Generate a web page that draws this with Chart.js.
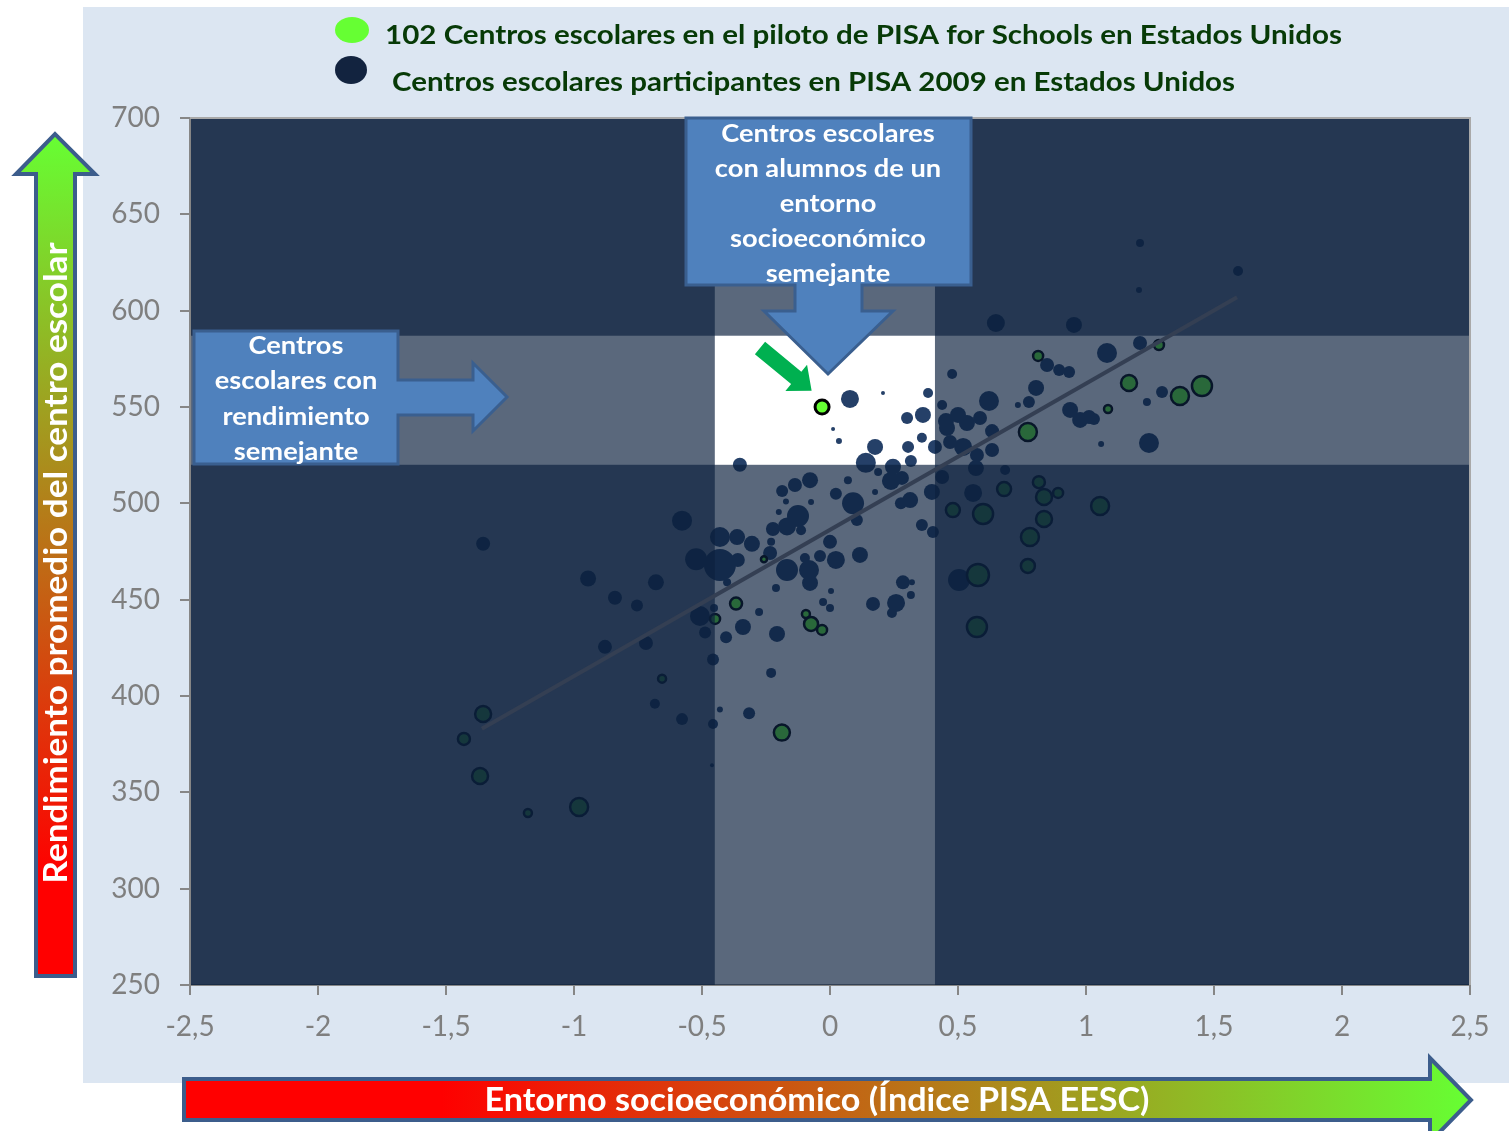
<!DOCTYPE html>
<html lang="es">
<head>
<meta charset="utf-8">
<title>PISA for Schools - Estados Unidos</title>
<script src="https://cdn.jsdelivr.net/npm/chart.js@4.4.1/dist/chart.umd.min.js"></script>
<style>
  html, body { margin: 0; padding: 0; background: #fff; }
  #grafico { display: block; }
</style>
</head>
<body>
<canvas id="grafico" width="1509" height="1131"></canvas>
<script>
// Centros escolares participantes en PISA 2009 (índice EESC, rendimiento, tamaño)
const pisa2009X = [-1.355, -0.578, -0.945, -0.84, -0.754, -0.68, -0.879, -0.719, -0.684, -0.578, -0.461, -0.43, -0.457, -0.457, -0.406, -0.43, -0.523, -0.43, -0.508, -0.488, -0.453, -0.402,
    -0.352, -0.187, -0.137, -0.078, -0.172, -0.074, 0.07, 0.023, 0.09, 0.14, -0.2, -0.125, -0.168, -0.223, -0.113, -0.363, -0.305, -0.23, -0.234, -0.36, -0.168, -0.098, -0.082, -0.039, 0, 0.023, 0.117, -0.078, -0.211, 0.004, 0.105,
    0.078, 0.207, 0.383, 0.012, 0.035, 0.301, 0.363, 0.176, 0.305, 0.359, 0.41, 0.316, 0.246, 0.188, 0.238, 0.281, 0.176, 0.313, 0.277, 0.398, 0.438, 0.453, 0.438, 0.359, 0.402, 0.285, 0.32, 0.316,
    -0.027, 0, -0.277, -0.34, -0.207, -0.23, -0.316, 0.168, 0.258, 0.242,
    1.211, 1.594, 1.207, 0.648, 0.953, 1.211, 0.848, 0.895, 0.934, 1.082, 0.477, 0.805, 0.777, 0.734, 0.621, 1.297, 1.238, 0.938, 0.977, 1.012, 1.031, 1.059, 1.246, 0.684, 0.57, 0.5, 0.535, 0.586, 0.633, 0.457, 0.469, 0.52, 0.574, 0.633,
    0.559, 0.504];
const pisa2009Y = [479, 491, 461, 451, 447, 459, 425.5, 427.5, 396, 388, 364, 393, 385.5, 419, 430.5, 482.5, 471, 468, 441.5, 433, 445.7, 459,
    520, 506.4, 509.5, 512, 501, 500.7, 512, 505, 500, 521, 495.5, 493.4, 488, 486.7, 486, 482.5, 479, 480, 474.2, 470.6, 465.4, 471.6, 465.4, 472.7, 480, 470.6, 473.2, 458.7, 456, 454.5, 491.4,
    554.2, 557.3, 557.3, 538.6, 532.4, 544.3, 545.9, 529.3, 529.3, 534, 529.3, 522, 519, 516.3, 511.6, 513.2, 505.9, 501.7, 500, 505.9, 513.7, 542.7, 551, 488.8, 485.1, 459, 459, 452.4,
    448.8, 445.7, 443.6, 435.8, 432.2, 412, 391, 447.8, 448.3, 443.1,
    635.1, 620.6, 610.7, 593.6, 592.6, 583.2, 571.8, 569.2, 568.2, 578, 567.1, 559.9, 552.6, 551, 553.1, 557.8, 552.6, 548.5, 543.3, 544.8, 543.8, 530.8, 531.3, 517.3, 518.3, 545.9, 541.7, 544.3, 537.5, 539.1, 531.8, 529.3, 525.1, 527.7,
    505.4, 460.2];
const pisa2009Tam = [7, 10, 8, 7, 6, 8, 7, 7, 5, 6, 2, 3, 5, 6, 6, 10, 11, 16, 10, 6, 4, 4,
    7, 6, 7, 8, 3, 3, 4, 6, 11, 10, 3, 11, 9, 7, 5, 8, 8, 4, 7, 7, 11, 5, 10, 6, 7, 9, 8, 8, 4, 3, 6,
    9, 2, 5, 2, 3, 6, 8, 8, 6, 5, 7, 6, 8, 4, 9, 7, 3, 8, 6, 8, 7, 8, 5, 6, 6, 7, 3, 4,
    4, 4, 4, 8, 8, 5, 6, 7, 9, 5,
    4, 5, 3, 9, 8, 7, 7, 6, 6, 10, 5, 8, 6, 3, 10, 6, 4, 8, 8, 7, 6, 3, 10, 5, 8, 8, 8, 7, 7, 8, 7, 9, 7, 7,
    9, 11];

// Centros escolares del piloto de PISA for Schools
const pilotoX = [-0.656, -0.449, -0.367, -1.355, -1.43, -1.367, -1.18, -0.98, -0.258, -0.094, -0.074, -0.031, -0.188,
    1.285, 0.813, 1.168, 1.453, 1.367, 1.086, 0.773, 0.68, 0.816, 0.836, 0.891, 0.48, 0.598, 0.836, 1.055, 0.781, 0.773, 0.578, 0.574];
const pilotoY = [409, 440, 448, 390.7, 377.7, 358.5, 339.3, 342.4, 471, 442.6, 437.4, 434.3, 381,
    582.2, 576.5, 562.5, 560.9, 555.7, 549, 537, 507.4, 511, 503.3, 505.4, 496.5, 494.5, 491.9, 498.6, 482.5, 467.5, 462.8, 435.8];
const pilotoTam = [5, 6, 7, 9, 7, 9, 5, 10, 4, 5, 8, 6, 9,
    6, 6, 9, 11, 10, 5, 10, 8, 7, 9, 6, 8, 11, 9, 10, 10, 8, 12, 11];

// Centro escolar destacado
const destacadoX = [-0.031];
const destacadoY = [550];
const destacadoTam = [7];

// Recta de regresión
const rectaX = [-1.36, 1.59];
const rectaY = [383, 607];

// Franjas de centros semejantes
const franjaEntorno = [-0.45, 0.41];
const franjaRendimiento = [520, 587];

const ticksX = [-2.5, -2, -1.5, -1, -0.5, 0, 0.5, 1, 1.5, 2, 2.5];
const ticksY = [250, 300, 350, 400, 450, 500, 550, 600, 650, 700];

const textoLeyenda = [
    '102 Centros escolares en el piloto de PISA for Schools en Estados Unidos',
    'Centros escolares participantes en PISA 2009 en Estados Unidos'
];
const tituloY = 'Rendimiento promedio del centro escolar';
const tituloX = 'Entorno socioeconómico (Índice PISA EESC)';
const textoCajaArriba = ['Centros escolares', 'con alumnos de un', 'entorno', 'socioeconómico', 'semejante'];
const textoCajaIzq = ['Centros', 'escolares con', 'rendimiento', 'semejante'];

const FUENTE = 'Lato, "Open Sans", sans-serif';

function puntos(xs, ys, rs) {
    return xs.map((x, i) => ({ x: x, y: ys[i], r: rs[i] }));
}

function poligono(ctx, pts) {
    ctx.beginPath();
    ctx.moveTo(pts[0][0], pts[0][1]);
    for (let i = 1; i < pts.length; i++) ctx.lineTo(pts[i][0], pts[i][1]);
    ctx.closePath();
}

// texto ensanchado horizontalmente (la fuente original es más ancha que Lato)
function textoAncho(ctx, texto, x, y, ancho, alinear) {
    const k = ancho / ctx.measureText(texto).width;
    ctx.save();
    ctx.translate(x, y);
    ctx.scale(k, 1);
    ctx.textAlign = alinear;
    ctx.fillText(texto, 0, 0);
    ctx.restore();
}

function lineasTexto(ctx, lineas, cx, y0, paso, factor) {
    lineas.forEach((t, i) => textoAncho(ctx, t, cx, y0 + i * paso, ctx.measureText(t).width * factor, 'center'));
}

const decoracion = {
    id: 'decoracion',
    beforeDraw(chart) {
        const ctx = chart.ctx;
        const a = chart.chartArea;
        ctx.save();
        ctx.fillStyle = '#ffffff';
        ctx.fillRect(0, 0, chart.width, chart.height);
        ctx.fillStyle = '#dce6f2';
        ctx.fillRect(83, 7, chart.width - 83, 1076);
        ctx.fillStyle = '#ffffff';
        ctx.fillRect(a.left, a.top, a.right - a.left, a.bottom - a.top);
        ctx.restore();
    },
    afterDatasetDraw(chart, args) {
        // velo oscuro fuera de las franjas, justo después de los puntos
        if (args.index !== 1) return;
        const ctx = chart.ctx;
        const a = chart.chartArea;
        const sx = chart.scales.x, sy = chart.scales.y;
        const x0 = sx.getPixelForValue(franjaEntorno[0]);
        const x1 = sx.getPixelForValue(franjaEntorno[1]);
        const y0 = sy.getPixelForValue(franjaRendimiento[1]);
        const y1 = sy.getPixelForValue(franjaRendimiento[0]);
        ctx.save();
        ctx.fillStyle = 'rgba(12, 33, 62, 0.68)';
        ctx.fillRect(a.left + 1, a.top, x0 - a.left - 1, a.bottom - a.top);
        ctx.fillRect(x1, a.top, a.right - x1, a.bottom - a.top);
        ctx.fillRect(a.left + 1, a.top, a.right - a.left - 1, y0 - a.top);
        ctx.fillRect(a.left + 1, y1, a.right - a.left - 1, a.bottom - y1);
        ctx.restore();
    },
    afterDraw(chart) {
        const ctx = chart.ctx;
        const a = chart.chartArea;
        ctx.save();

        // marco superior y derecho
        ctx.strokeStyle = '#a9a9a9';
        ctx.lineWidth = 2;
        ctx.beginPath();
        ctx.moveTo(a.left, a.top);
        ctx.lineTo(a.right, a.top);
        ctx.lineTo(a.right, a.bottom);
        ctx.stroke();

        // cajas con flecha
        ctx.fillStyle = '#4f81bd';
        ctx.strokeStyle = '#3a5f8f';
        ctx.lineWidth = 3;
        ctx.lineJoin = 'miter';
        poligono(ctx, [[194, 331], [398, 331], [398, 380], [473, 380], [473, 363], [507, 397], [473, 431], [473, 415], [398, 415], [398, 464], [194, 464]]);
        ctx.fill();
        ctx.stroke();
        poligono(ctx, [[686, 118], [971, 118], [971, 285], [862, 285], [862, 311], [893, 311], [828, 374], [764, 311], [795, 311], [795, 285], [686, 285]]);
        ctx.fill();
        ctx.stroke();

        ctx.fillStyle = '#ffffff';
        ctx.font = 'bold 25px ' + FUENTE;
        ctx.textBaseline = 'middle';
        lineasTexto(ctx, textoCajaArriba, 828, 134, 35, 1.09);
        lineasTexto(ctx, textoCajaIzq, 296, 346, 35.3, 1.09);

        // flecha verde hacia el centro destacado
        ctx.save();
        ctx.translate(760, 348);
        ctx.rotate(Math.atan2(43, 52));
        ctx.fillStyle = '#00b050';
        poligono(ctx, [[0, -8], [47, -8], [47, -17], [67, 0], [47, 17], [47, 8], [0, 8]]);
        ctx.fill();
        ctx.restore();

        // leyenda
        ctx.fillStyle = '#66ff33';
        ctx.beginPath();
        ctx.ellipse(352, 30, 17, 13, 0, 0, Math.PI * 2);
        ctx.fill();
        ctx.fillStyle = '#12233f';
        ctx.beginPath();
        ctx.ellipse(351, 70, 16, 14, 0, 0, Math.PI * 2);
        ctx.fill();
        ctx.fillStyle = '#073a07';
        ctx.font = 'bold 27px ' + FUENTE;
        textoAncho(ctx, textoLeyenda[0], 385, 35, 957, 'left');
        textoAncho(ctx, textoLeyenda[1], 392, 82, 843, 'left');

        // flecha vertical (rendimiento)
        let g = ctx.createLinearGradient(0, 976, 0, 134);
        g.addColorStop(0, '#ff0000');
        g.addColorStop(0.12, '#ff0000');
        g.addColorStop(1, '#66ff33');
        ctx.fillStyle = g;
        ctx.strokeStyle = '#3c5d8c';
        ctx.lineWidth = 4;
        poligono(ctx, [[36, 976], [36, 174], [16, 174], [55, 134], [95, 174], [75, 174], [75, 976]]);
        ctx.fill();
        ctx.stroke();
        ctx.save();
        ctx.translate(57, 563);
        ctx.rotate(-Math.PI / 2);
        ctx.fillStyle = '#ffffff';
        ctx.font = 'bold 32px ' + FUENTE;
        textoAncho(ctx, tituloY, 0, 0, 641, 'center');
        ctx.restore();

        // flecha horizontal (entorno)
        g = ctx.createLinearGradient(184, 0, 1471, 0);
        g.addColorStop(0, '#ff0000');
        g.addColorStop(0.2, '#ff0000');
        g.addColorStop(1, '#66ff33');
        ctx.fillStyle = g;
        poligono(ctx, [[184, 1079], [1430, 1079], [1430, 1058], [1471, 1100], [1430, 1142], [1430, 1120], [184, 1120]]);
        ctx.fill();
        ctx.stroke();
        ctx.fillStyle = '#ffffff';
        ctx.font = 'bold 32px ' + FUENTE;
        textoAncho(ctx, tituloX, 817, 1101, 665, 'center');

        ctx.restore();
    }
};

Chart.defaults.font.family = FUENTE;

new Chart(document.getElementById('grafico'), {
    type: 'bubble',
    data: {
        datasets: [
            {
                label: textoLeyenda[1],
                data: puntos(pisa2009X, pisa2009Y, pisa2009Tam),
                backgroundColor: '#254068',
                borderWidth: 0,
                order: 4
            },
            {
                label: textoLeyenda[0],
                data: puntos(pilotoX, pilotoY, pilotoTam.map(r => r - 1)),
                backgroundColor: '#66ff33',
                borderColor: '#000000',
                borderWidth: 2.5,
                order: 3
            },
            {
                type: 'line',
                label: 'Recta de regresión',
                data: rectaX.map((x, i) => ({ x: x, y: rectaY[i] })),
                borderColor: '#343f53',
                borderWidth: 4,
                pointRadius: 0,
                order: 2
            },
            {
                label: 'Centro escolar destacado',
                data: puntos(destacadoX, destacadoY, destacadoTam),
                backgroundColor: '#66ff33',
                borderColor: '#000000',
                borderWidth: 3,
                order: 1
            }
        ]
    },
    options: {
        responsive: false,
        animation: false,
        events: [],
        layout: { padding: { left: 0, top: 118, right: 39, bottom: 0 } },
        plugins: {
            legend: { display: false },
            tooltip: { enabled: false }
        },
        scales: {
            x: {
                type: 'linear',
                min: ticksX[0],
                max: ticksX[ticksX.length - 1],
                afterFit(scale) { scale.height = 146; },
                afterBuildTicks(scale) { scale.ticks = ticksX.map(v => ({ value: v })); },
                ticks: {
                    color: '#7f7f7f',
                    font: { size: 28 },
                    padding: 15,
                    maxRotation: 0,
                    autoSkip: false,
                    callback: v => String(v).replace('.', ',')
                },
                grid: { drawOnChartArea: false, drawTicks: true, tickLength: 10, color: '#868686', lineWidth: 2 },
                border: { color: '#868686', width: 2 }
            },
            y: {
                type: 'linear',
                min: ticksY[0],
                max: ticksY[ticksY.length - 1],
                afterFit(scale) { scale.width = 190; },
                afterBuildTicks(scale) { scale.ticks = ticksY.map(v => ({ value: v })); },
                ticks: {
                    color: '#7f7f7f',
                    font: { size: 28 },
                    padding: 20
                },
                grid: { drawOnChartArea: false, drawTicks: true, tickLength: 10, color: '#868686', lineWidth: 2 },
                border: { color: '#868686', width: 2 }
            }
        }
    },
    plugins: [decoracion]
});
</script>
</body>
</html>
